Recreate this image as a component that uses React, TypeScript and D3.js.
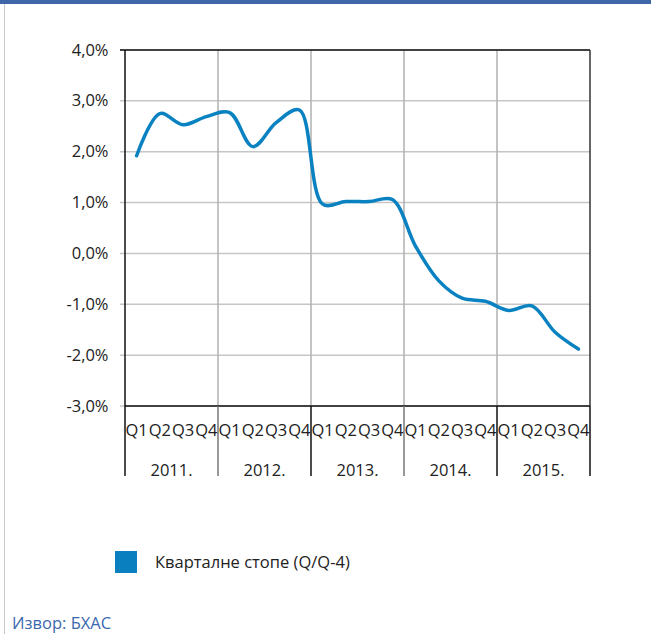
import React from "react";
import * as d3 from "d3";

const years = ["2011.", "2012.", "2013.", "2014.", "2015."];
const quarters = ["Q1", "Q2", "Q3", "Q4"];
const values = [
  1.92, 2.75, 2.53, 2.69,
  2.77, 2.1, 2.57, 2.82,
  0.97, 1.02, 1.02, 1.06,
  0.14, -0.54, -0.88, -0.94,
  -1.12, -1.03, -1.55, -1.88,
];
const yTicks = [4, 3, 2, 1, 0, -1, -2, -3];
const legendLabel = "Кварталне стопе (Q/Q-4)";
const sourceLabel = "Извор: БХАС";

const W = 651, H = 634;
const left = 125, right = 590, top = 50, bottom = 406;
const FONT = "'Open Sans', sans-serif";
const FS = 16.5;

export default function App() {
  const nQ = years.length * quarters.length;
  const xBand = d3.scaleLinear().domain([0, nQ]).range([left, right]);
  const y = d3.scaleLinear().domain([-3, 4]).range([bottom, top]);
  const line = d3
    .line<number>()
    .x((_, i) => xBand(i + 0.5))
    .y((d) => y(d))
    .curve(d3.curveCatmullRom.alpha(0.5));
  const fmt = (v: number) => v.toFixed(1).replace(".", ",") + "%";
  return (
    <div style={{ position: "absolute", left: 0, top: 0 }}>
      <svg width={W} height={H} style={{ display: "block", background: "#fff" }}>
        <rect x={0} y={0} width={W} height={4} fill="#3e66a8" />
        <line x1={4.5} x2={4.5} y1={4} y2={H} stroke="#c8c8c8" />
        {yTicks.map((t) => (
          <line key={"h" + t} x1={left - 5} x2={right} y1={y(t)} y2={y(t)} stroke="#c6c6c6" strokeWidth={1.5} />
        ))}
        {years.map((yr, i) =>
          i > 0 ? (
            <line key={"v" + yr} x1={xBand(i * 4)} x2={xBand(i * 4)} y1={top} y2={bottom} stroke="#b0b0b0" strokeWidth={1.5} />
          ) : null
        )}
        <line x1={left - 5} x2={right} y1={top} y2={top} stroke="#111" strokeWidth={1.5} />
        <line x1={left} x2={right} y1={bottom} y2={bottom} stroke="#111" strokeWidth={1.5} />
        <line x1={left} x2={left} y1={top} y2={bottom} stroke="#111" strokeWidth={1.5} />
        <line x1={right} x2={right} y1={top} y2={bottom} stroke="#333" strokeWidth={1.5} />
        {yTicks.map((t) => (
          <text key={"l" + t} x={108.5} y={y(t) + 5.5} textAnchor="end" fontFamily={FONT} fontSize={FS} fill="#222">
            {fmt(t)}
          </text>
        ))}
        {d3.range(years.length + 1).map((i) => (
          <line key={"s" + i} x1={xBand(i * 4)} x2={xBand(i * 4)} y1={bottom} y2={476} stroke={i === 1 || i === 3 ? "#777" : "#111"} strokeWidth={1.5} />
        ))}
        {d3.range(nQ).map((i) => (
          <text key={"q" + i} x={xBand(i + 0.5)} y={436} textAnchor="middle" fontFamily={FONT} fontSize={FS} fill="#222">
            {quarters[i % 4]}
          </text>
        ))}
        {years.map((yr, i) => (
          <text key={"y" + yr} x={xBand(i * 4 + 2)} y={476} textAnchor="middle" fontFamily={FONT} fontSize={FS} fill="#222">
            {yr}
          </text>
        ))}
        <path d={line(values) || ""} fill="none" stroke="#0a82c1" strokeWidth={3.5} strokeLinecap="round" strokeLinejoin="round" />
        <rect x={115} y={551} width={22} height={22} fill="#0a7fc0" />
        <text x={155} y={568} fontFamily={FONT} fontSize={FS} fill="#222">
          {legendLabel}
        </text>
        <text x={12} y={629} fontFamily={FONT} fontSize={FS} fill="#3a68ad">
          {sourceLabel}
        </text>
      </svg>
    </div>
  );
}
